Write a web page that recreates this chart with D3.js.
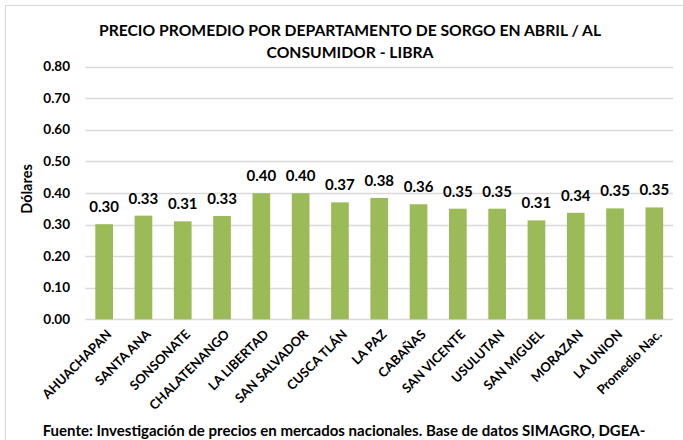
<!DOCTYPE html>
<html>
<head>
<meta charset="utf-8">
<script src="https://cdn.jsdelivr.net/npm/d3@7"></script>
<style>
  body { margin: 0; background: #fff; }
  svg text { font-family: Lato, "Open Sans", sans-serif; font-weight: bold; fill: #000; }
</style>
</head>
<body>
<svg id="svg1" width="683" height="440"></svg>
<script>
// datos
const departamentos = ["AHUACHAPAN", "SANTA ANA", "SONSONATE", "CHALATENANGO", "LA LIBERTAD",
    "SAN SALVADOR", "CUSCA TLÁN", "LA PAZ", "CABAÑAS", "SAN VICENTE", "USULUTAN",
    "SAN MIGUEL", "MORAZAN", "LA UNION", "Promedio Nac."];
const precios = [0.301, 0.328, 0.310, 0.327, 0.399, 0.399, 0.370, 0.384, 0.364, 0.350,
    0.350, 0.313, 0.337, 0.351, 0.354];
const yTicks = [0, 0.1, 0.2, 0.3, 0.4, 0.5, 0.6, 0.7, 0.8];
const tituloLineas = ["PRECIO PROMEDIO POR DEPARTAMENTO DE SORGO EN ABRIL / AL", "CONSUMIDOR - LIBRA"];
const fuente = "Fuente: Investigación de precios en mercados nacionales. Base de datos SIMAGRO, DGEA-";

const svg = d3.select("#svg1");
const width = +svg.attr("width");
const height = +svg.attr("height");

const margin = { top: 66.5, right: 9, bottom: 120.7, left: 84.5 };

// borde del area del grafico
svg.append("rect")
    .attr("x", 5.5).attr("y", 5.5)
    .attr("width", width).attr("height", height)
    .attr("fill", "none")
    .attr("stroke", "#d9d9d9");

const x = d3.scaleBand()
    .domain(departamentos)
    .range([margin.left, width - margin.right])
    .paddingInner(0.55)
    .paddingOuter(0.275);

const y = d3.scaleLinear()
    .domain([0, 0.8])
    .range([height - margin.bottom, margin.top]);

// titulo
svg.append("text")
    .attr("x", 350)
    .attr("y", 36)
    .attr("text-anchor", "middle")
    .style("font-size", "15.7px")
    .selectAll("tspan")
    .data(tituloLineas)
    .enter().append("tspan")
    .attr("x", 350)
    .attr("dy", (d, i) => i == 0 ? 0 : 21.5)
    .text(d => d);

// lineas de cuadricula
svg.append("g")
    .selectAll("line")
    .data(yTicks)
    .enter().append("line")
    .attr("x1", margin.left + 1)
    .attr("x2", width - margin.right - 1)
    .attr("y1", d => Math.round(y(d)) + 0.5)
    .attr("y2", d => Math.round(y(d)) + 0.5)
    .attr("stroke", "#d9d9d9")
    .attr("stroke-width", 1.3);

// etiquetas eje y
svg.append("g")
    .selectAll("text")
    .data(yTicks)
    .enter().append("text")
    .attr("x", 70)
    .attr("y", d => y(d))
    .attr("dy", "0.35em")
    .attr("text-anchor", "end")
    .style("font-size", "13.5px")
    .text(d => d3.format(".2f")(d));

svg.append("text")
    .attr("transform", "translate(32," + 189 + ") rotate(-90)")
    .attr("text-anchor", "middle")
    .style("font-size", "14.5px")
    .text("Dólares");

// barras
svg.append("g")
    .selectAll("rect")
    .data(precios)
    .enter().append("rect")
    .attr("x", (d, i) => x(departamentos[i]))
    .attr("width", x.bandwidth())
    .attr("y", d => y(d))
    .attr("height", d => y(0) - y(d))
    .attr("fill", "#9bbb59");

// valores sobre las barras
svg.append("g")
    .selectAll("text")
    .data(precios)
    .enter().append("text")
    .attr("x", (d, i) => x(departamentos[i]) + x.bandwidth() / 2)
    .attr("y", d => y(d) - 12)
    .attr("text-anchor", "middle")
    .style("font-size", "15px")
    .text(d => d3.format(".2f")(d));

// etiquetas eje x
svg.append("g")
    .selectAll("text")
    .data(departamentos)
    .enter().append("text")
    .attr("transform", d => "translate(" + (x(d) + x.bandwidth() / 2 + 5) + "," + 332 + ") rotate(-45)")
    .attr("text-anchor", "end")
    .attr("dy", "0.35em")
    .style("font-size", "13px")
    .text(d => d);

// fuente
svg.append("text")
    .attr("x", 344)
    .attr("y", 436)
    .attr("text-anchor", "middle")
    .style("font-size", "15px")
    .text(fuente);
</script>
</body>
</html>
